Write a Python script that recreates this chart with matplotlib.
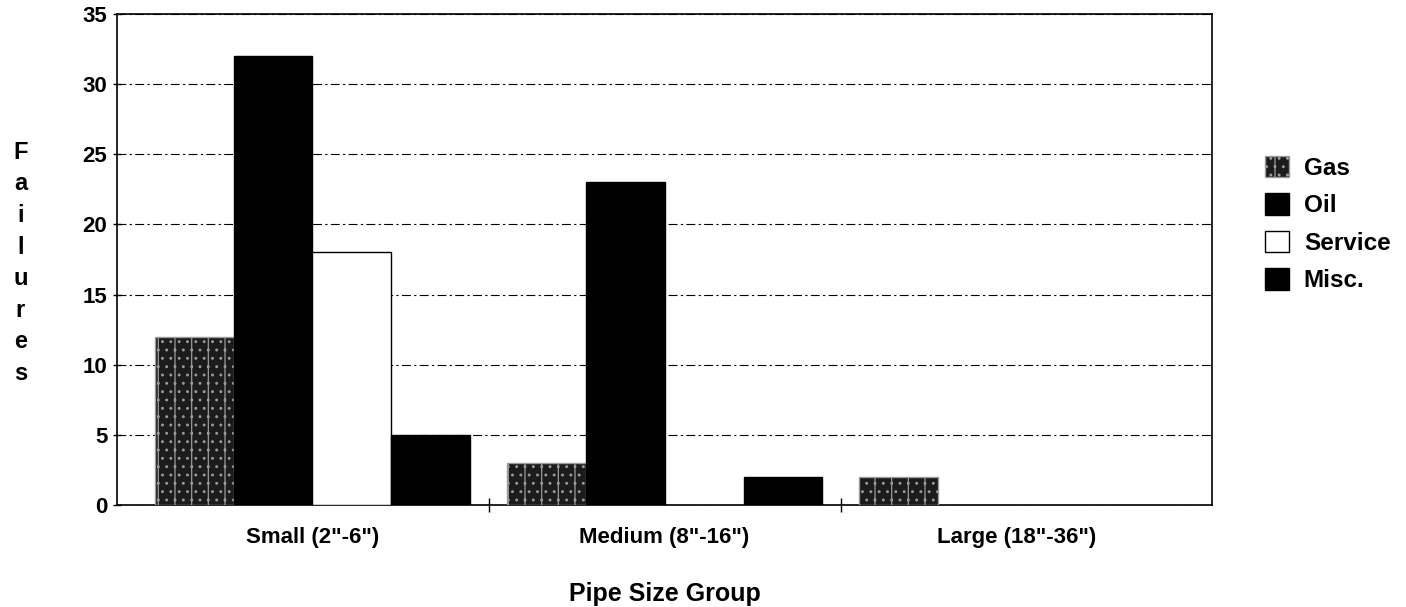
import matplotlib
matplotlib.use("Agg")
import matplotlib.pyplot as plt
import numpy as np
from matplotlib.patches import Patch

plt.rcParams['font.family'] = ['Liberation Sans', 'DejaVu Sans']
plt.rcParams['font.weight'] = 'bold'
plt.rcParams['hatch.linewidth'] = 0.9

groups = ['Small (2"-6")', 'Medium (8"-16")', 'Large (18"-36")']
series = ['Gas', 'Oil', 'Service', 'Misc.']
gas = [12, 3, 2]
oil = [32, 23, 0]
service = [18, 0, 0]
misc = [5, 2, 0]

values = [gas, oil, service, misc]
styles = [
    dict(facecolor='#1c1c1c', edgecolor='#9a9a9a', hatch='|..'),
    dict(facecolor='black', edgecolor='black'),
    dict(facecolor='white', edgecolor='black'),
    dict(facecolor='black', edgecolor='black'),
]

fig = plt.figure(figsize=(14.06, 6.07), dpi=100)
ax = fig.add_axes([0.0832, 0.168, 0.779, 0.809])

x = np.arange(len(groups))
width = 0.224
for i, (vals, st) in enumerate(zip(values, styles)):
    pos = x + (i - 1.5) * width
    for p, v in zip(pos, vals):
        if v > 0:
            ax.bar(p, v, width, linewidth=1.0, zorder=3, **st)

ax.set_xlim(-0.555, 2.555)
ax.set_ylim(0, 35)
ax.set_yticks(range(0, 36, 5))
ax.yaxis.grid(True, color='black', linestyle=(0, (8, 3, 2, 3)), linewidth=0.8)
ax.set_axisbelow(True)

ax.set_xticks(x)
ax.set_xticklabels(groups, fontsize=16, fontweight='bold')
ax.set_xticks([0.5, 1.5], minor=True)
ax.tick_params(axis='x', which='major', length=0, pad=16)
ax.tick_params(axis='x', which='minor', length=10, direction='inout', width=1)
ax.tick_params(axis='y', labelsize=16, length=6, direction='inout', width=1, pad=4)
for lab in ax.get_yticklabels():
    lab.set_fontweight('bold')

for s in ax.spines.values():
    s.set_color('black')
    s.set_linewidth(1.2)

ax.set_xlabel('Pipe Size Group', fontsize=18, fontweight='bold', labelpad=24)
fig.text(0.0145, 0.567, '\n'.join('Failures'), fontsize=17, fontweight='bold',
         ha='center', va='center', linespacing=1.48)

handles = [Patch(label=s, linewidth=1.0, **st) for s, st in zip(series, styles)]
fig.legend(handles=handles, loc='center left', bbox_to_anchor=(0.8997, 0.631),
           bbox_transform=fig.transFigure, frameon=False, borderpad=0,
           borderaxespad=0, prop={'size': 17.5, 'weight': 'bold'},
           handlelength=1.0, handleheight=1.0, handletextpad=0.6,
           labelspacing=0.55)

fig.savefig('out.png', dpi=100)
